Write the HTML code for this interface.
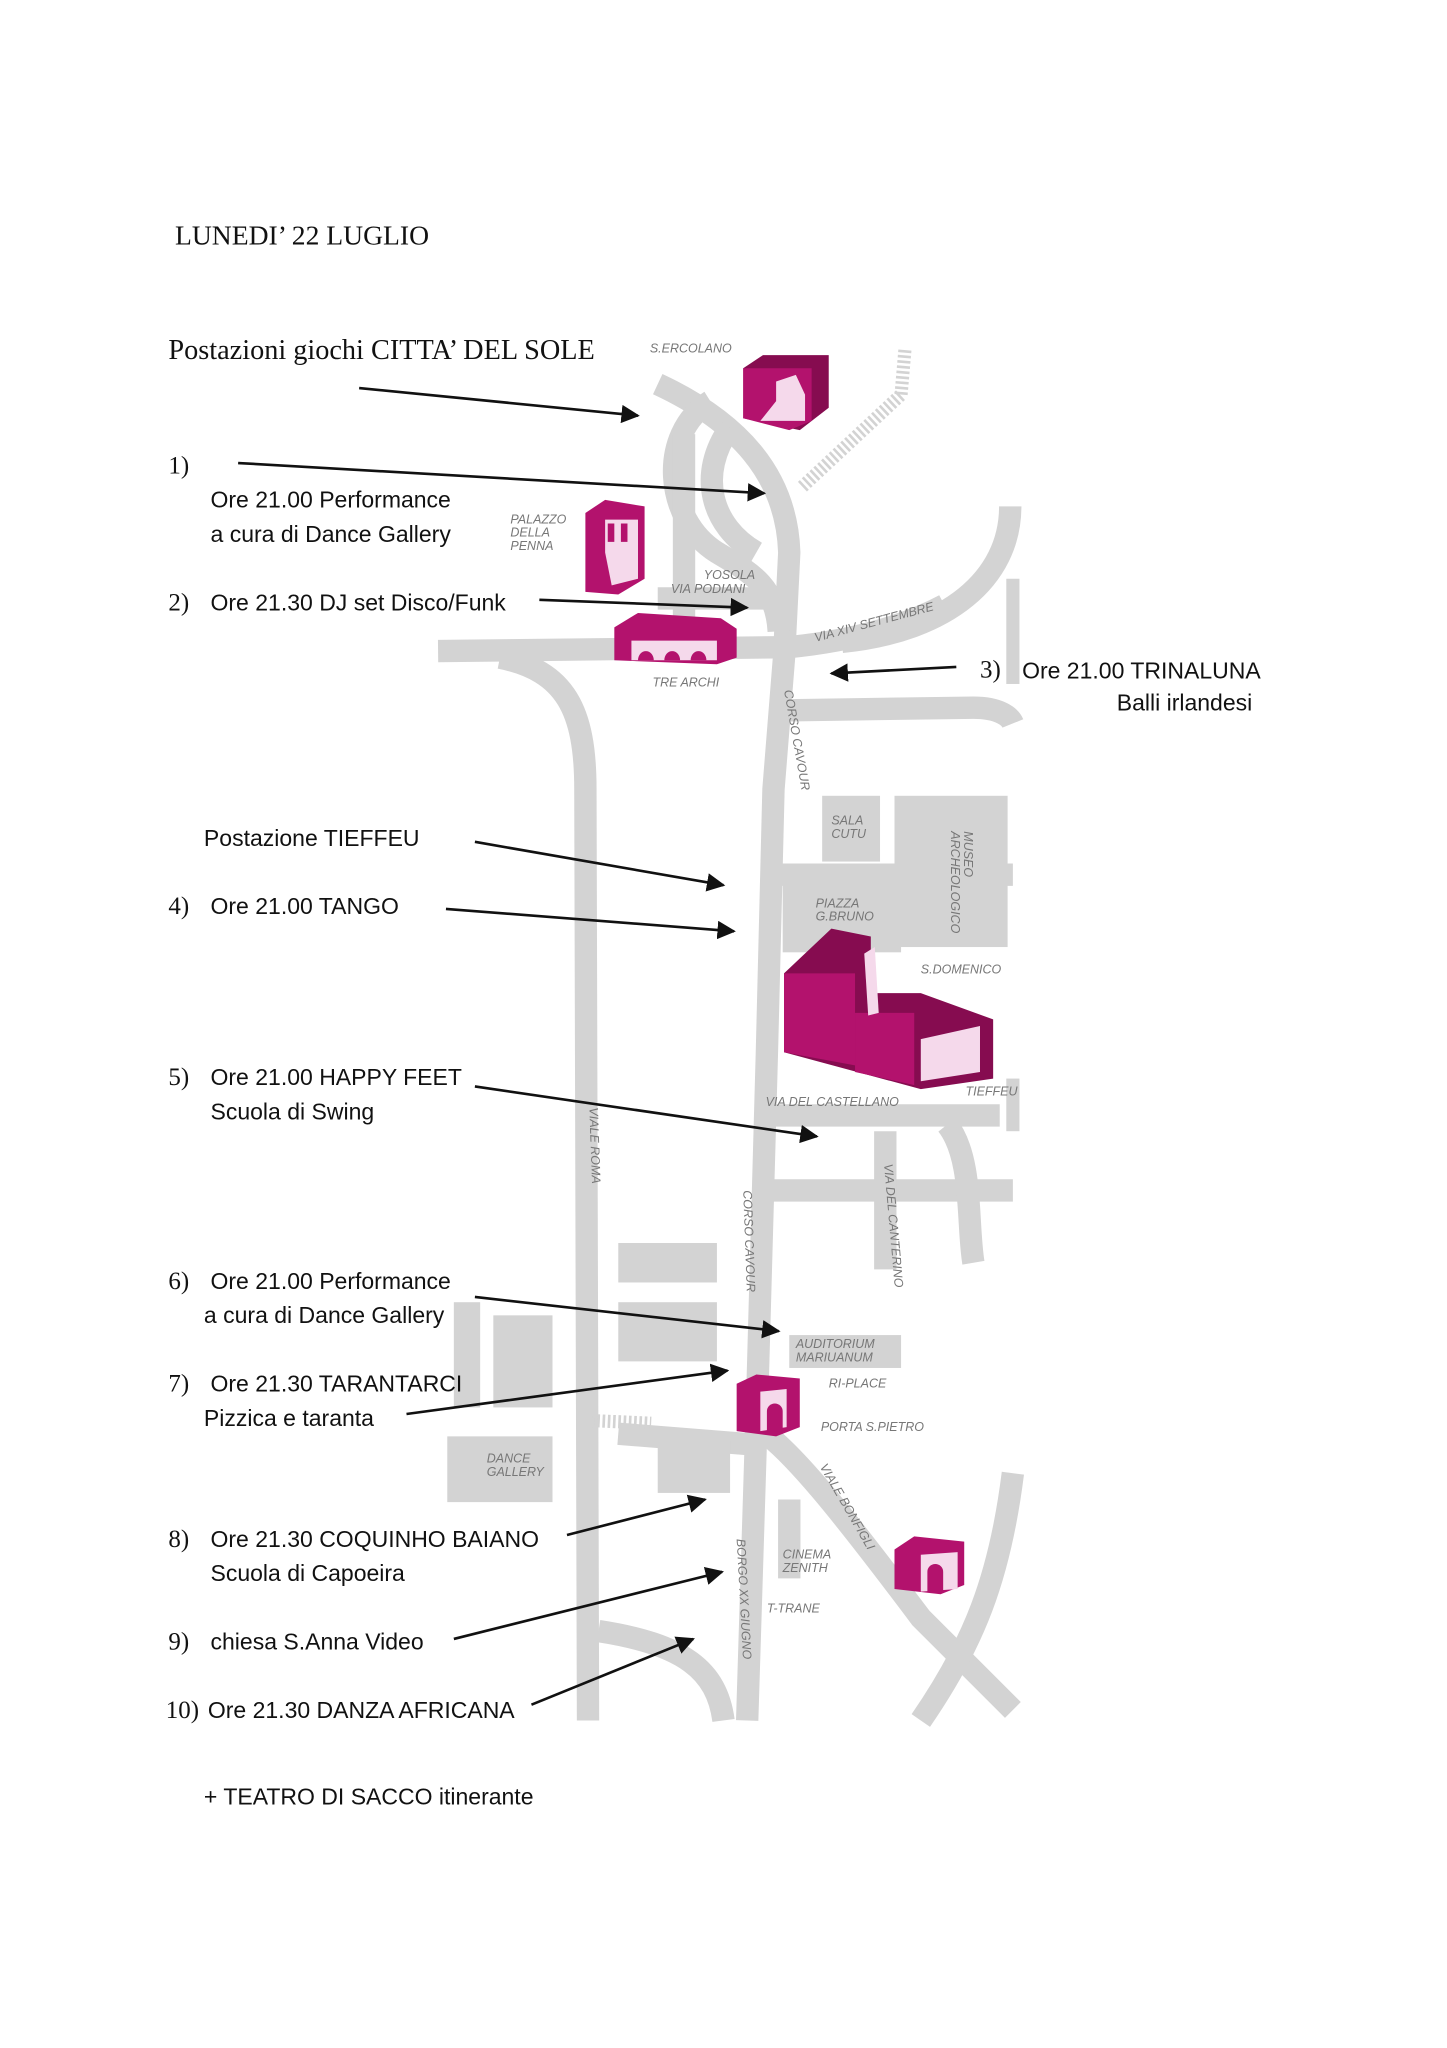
<!DOCTYPE html>
<html><head><meta charset="utf-8"><style>
html,body{margin:0;padding:0;background:#fff;}
svg{display:block;}
.s{font-family:"Liberation Sans",sans-serif;font-size:17.5px;fill:#111;}
.r{font-family:"Liberation Serif",serif;fill:#111;}
.l{font-family:"Liberation Sans",sans-serif;font-size:9.5px;fill:#777;font-style:italic;}
.rd{fill:none;stroke:#d3d3d3;stroke-width:17;}
.g{fill:#d3d3d3;}
.a{stroke:#111;stroke-width:2;fill:none;}
.m{fill:#b3126d;}.d{fill:#860c50;}.p{fill:#f5d9eb;}
</style></head><body>
<svg width="1447" height="2048" viewBox="0 0 1100 1557" xmlns="http://www.w3.org/2000/svg">
<defs><marker id="ah" viewBox="0 0 10 10" refX="9" refY="5" markerWidth="7" markerHeight="7" orient="auto"><path d="M0,0 L10,5 L0,10 z" fill="#111"/></marker></defs>
<g>
<path class="rd" d="M500,292 C560,320 598,360 600,420 L596,500 L588,600 L583,800 L576,1050 L568,1308"/>
<path class="rd" d="M540,305 C500,330 505,395 545,420 C570,435 590,445 592,480"/>
<path class="rd" d="M555,325 C530,360 540,400 575,420"/>
<path class="rd" d="M520,330 L520,470"/>
<path class="rd" d="M500,455 L590,455"/>
<path class="rd" d="M333,495 L600,492 C650,487 690,475 718,460"/>
<path class="rd" d="M768,385 C768,440 720,480 640,488"/>
<path class="rd" d="M600,540 L740,538 C760,538 768,545 770,550"/>
<path class="rd" d="M380,500 C430,510 445,540 445,600 L447,1308"/>
<path class="rd" d="M585,665 L770,665"/>
<path class="rd" d="M580,848 L760,848"/>
<path class="rd" d="M575,905 L770,905"/>
<path class="rd" d="M673,860 L673,965"/>
<path class="rd" d="M720,855 C740,880 735,930 740,960"/>
<path class="rd" d="M575,1085 C600,1100 640,1150 700,1230 C740,1270 760,1290 770,1300"/>
<path class="rd" d="M770,1120 C760,1200 740,1250 700,1308"/>
<path class="rd" d="M470,1090 L570,1098"/>
<path class="rd" d="M455,1240 C520,1250 545,1270 550,1308"/>
<path class="rd" d="M600,1140 L600,1200"/>
</g>
<rect class="g" x="625" y="605" width="44" height="50"/>
<rect class="g" x="680" y="605" width="86" height="115"/>
<rect class="g" x="595" y="672" width="90" height="52"/>
<rect class="g" x="470" y="945" width="75" height="30"/>
<rect class="g" x="470" y="990" width="75" height="45"/>
<rect class="g" x="345" y="990" width="20" height="80"/>
<rect class="g" x="375" y="1000" width="45" height="70"/>
<rect class="g" x="340" y="1092" width="80" height="50"/>
<rect class="g" x="500" y="1095" width="55" height="40"/>
<rect class="g" x="600" y="1015" width="85" height="25"/>
<rect class="g" x="765" y="820" width="10" height="40"/>
<rect class="g" x="765" y="440" width="10" height="80"/>
<path d="M610,370 L685,300" stroke="#d3d3d3" stroke-width="10" stroke-dasharray="2,2" fill="none"/>
<path d="M685,300 L688,265" stroke="#d3d3d3" stroke-width="10" stroke-dasharray="2,2" fill="none"/>
<path d="M450,1080 L495,1082" stroke="#d3d3d3" stroke-width="10" stroke-dasharray="2,2" fill="none"/>
<g>
<path class="d" d="M565,280 L580,270 L630,270 L630,310 L608,327 L565,318 z"/><path class="m" d="M565,280 L617,280 L617,320 L600,327 L565,318z"/>
<path class="p" d="M590,290 L605,285 L612,300 L612,320 L578,320 L590,305z"/>
<path class="m" d="M445,390 L460,380 L490,385 L490,440 L470,452 L445,450z"/><path class="p" d="M460,395 L485,395 L485,440 L465,445 L460,420z"/><path class="m" d="M462,398 h5 v14 h-5z M472,398 h5 v14 h-5z"/>
<path class="m" d="M467,477 L485,466 L548,470 L560,478 L560,500 L545,505 L467,502z"/><path class="p" d="M480,487 L545,487 L545,502 L480,502z"/><path class="m" d="M485,502 a6,7 0 0 1 12,0z M505,502 a6,7 0 0 1 12,0z M525,502 a6,7 0 0 1 12,0z"/>
<path class="d" d="M596,740 L632,706 L662,712 L662,755 L700,755 L755,775 L755,820 L700,828 L596,800z"/>
<path class="m" d="M596,740 L650,740 L650,810 L596,800z"/><path class="m" d="M650,770 L695,770 L695,825 L650,815z"/>
<path class="p" d="M657,725 L665,720 L668,770 L660,772z"/><path class="p" d="M700,790 L745,780 L745,815 L700,822z"/>
<path class="m" d="M560,1052 L575,1045 L608,1048 L608,1085 L590,1092 L560,1088z"/><path class="p" d="M578,1058 L598,1056 L598,1085 L578,1088z"/><path class="m" d="M583,1088 v-15 a6,6 0 0 1 12,0 v15z"/>
<path class="m" d="M680,1178 L695,1168 L733,1172 L733,1205 L715,1212 L680,1208z"/><path class="p" d="M700,1182 L728,1180 L728,1208 L700,1210z"/><path class="m" d="M705,1210 v-15 a6,6 0 0 1 12,0 v15z"/>
</g>
<text class="l" x="494" y="268">S.ERCOLANO</text>
<text class="l" x="388" y="398">PALAZZO</text><text class="l" x="388" y="408">DELLA</text><text class="l" x="388" y="418">PENNA</text>
<text class="l" x="535" y="440">YOSOLA</text><text class="l" x="510" y="451">VIA PODIANI</text>
<text class="l" transform="translate(620,488) rotate(-15)">VIA XIV SETTEMBRE</text>
<text class="l" x="496" y="522">TRE ARCHI</text>
<text class="l" transform="translate(596,525) rotate(80)">CORSO CAVOUR</text>
<text class="l" x="632" y="627">SALA</text><text class="l" x="632" y="637">CUTU</text>
<text class="l" transform="translate(733,632) rotate(90)">MUSEO</text><text class="l" transform="translate(723,632) rotate(90)">ARCHEOLOGICO</text>
<text class="l" x="620" y="690">PIAZZA</text><text class="l" x="620" y="700">G.BRUNO</text>
<text class="l" x="700" y="740">S.DOMENICO</text>
<text class="l" x="734" y="833">TIEFFEU</text>
<text class="l" x="582" y="841">VIA DEL CASTELLANO</text>
<text class="l" transform="translate(448,842) rotate(88)">VIALE ROMA</text>
<text class="l" transform="translate(672,885) rotate(85)">VIA DEL CANTERINO</text>
<text class="l" transform="translate(565,905) rotate(88)">CORSO CAVOUR</text>
<text class="l" x="605" y="1025">AUDITORIUM</text><text class="l" x="605" y="1035">MARIUANUM</text>
<text class="l" x="630" y="1055">RI-PLACE</text>
<text class="l" x="624" y="1088">PORTA S.PIETRO</text>
<text class="l" transform="translate(623,1115) rotate(60)">VIALE BONFIGLI</text>
<text class="l" x="370" y="1112">DANCE</text><text class="l" x="370" y="1122">GALLERY</text>
<text class="l" x="595" y="1185">CINEMA</text><text class="l" x="595" y="1195">ZENITH</text>
<text class="l" x="583" y="1226">T-TRANE</text>
<text class="l" transform="translate(560,1170) rotate(87)">BORGO XX GIUGNO</text>
<g marker-end="url(#ah)">
<line class="a" x1="273" y1="295" x2="485" y2="316"/>
<line class="a" x1="181" y1="352" x2="581" y2="375"/>
<line class="a" x1="410" y1="456" x2="568" y2="462"/>
<line class="a" x1="727" y1="507" x2="632" y2="512"/>
<line class="a" x1="361" y1="640" x2="550" y2="673"/>
<line class="a" x1="339" y1="691" x2="558" y2="708"/>
<line class="a" x1="361" y1="826" x2="621" y2="864"/>
<line class="a" x1="361" y1="986" x2="592" y2="1012"/>
<line class="a" x1="309" y1="1075" x2="553" y2="1042"/>
<line class="a" x1="431" y1="1167" x2="536" y2="1140"/>
<line class="a" x1="345" y1="1246" x2="549" y2="1195"/>
<line class="a" x1="404" y1="1296" x2="527" y2="1246"/>
</g>
<text class="r" x="133" y="186" font-size="21">LUNEDI’ 22 LUGLIO</text>
<text class="r" x="128" y="273" font-size="21.5">Postazioni giochi CITTA’ DEL SOLE</text>
<text class="r" x="128" y="360" font-size="19">1)</text>
<text class="s" x="160" y="386">Ore 21.00 Performance</text>
<text class="s" x="160" y="412">a cura di Dance Gallery</text>
<text class="r" x="128" y="464" font-size="19">2)</text><text class="s" x="160" y="464">Ore 21.30 DJ set Disco/Funk</text>
<text class="r" x="745" y="515" font-size="19">3)</text><text class="s" x="777" y="516">Ore 21.00 TRINALUNA</text>
<text class="s" x="952" y="540" text-anchor="end">Balli irlandesi</text>
<text class="s" x="155" y="643">Postazione TIEFFEU</text>
<text class="r" x="128" y="695" font-size="19">4)</text><text class="s" x="160" y="695">Ore 21.00 TANGO</text>
<text class="r" x="128" y="825" font-size="19">5)</text><text class="s" x="160" y="825">Ore 21.00 HAPPY FEET</text>
<text class="s" x="160" y="851">Scuola di Swing</text>
<text class="r" x="128" y="980" font-size="19">6)</text><text class="s" x="160" y="980">Ore 21.00 Performance</text>
<text class="s" x="155" y="1006">a cura di Dance Gallery</text>
<text class="r" x="128" y="1058" font-size="19">7)</text><text class="s" x="160" y="1058">Ore 21.30 TARANTARCI</text>
<text class="s" x="155" y="1084">Pizzica e taranta</text>
<text class="r" x="128" y="1176" font-size="19">8)</text><text class="s" x="160" y="1176">Ore 21.30 COQUINHO BAIANO</text>
<text class="s" x="160" y="1202">Scuola di Capoeira</text>
<text class="r" x="128" y="1254" font-size="19">9)</text><text class="s" x="160" y="1254">chiesa S.Anna Video</text>
<text class="r" x="126" y="1306" font-size="19">10)</text><text class="s" x="158" y="1306">Ore 21.30 DANZA AFRICANA</text>
<text class="s" x="155" y="1372">+ TEATRO DI SACCO itinerante</text>
</svg>
</body></html>
